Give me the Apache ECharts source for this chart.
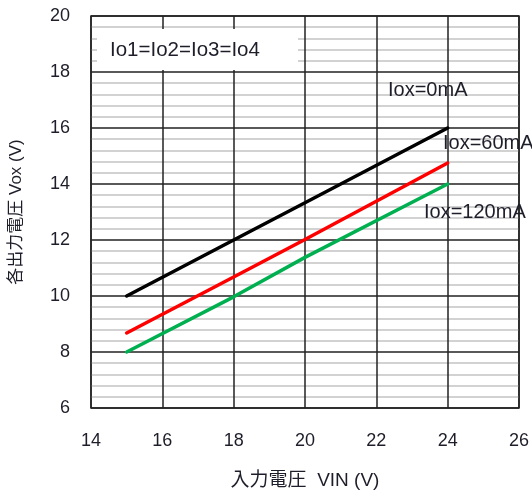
<!DOCTYPE html>
<html><head><meta charset="utf-8">
<script src="https://cdn.jsdelivr.net/npm/echarts@6/dist/echarts.min.js"></script>
<style>html,body{margin:0;padding:0;background:#fff}#c{width:532px;height:495px}</style>
</head><body><div id="c"></div>
<script>
const vin = [15, 18, 20, 24];
const vox0 = [10.0, 12.0, 13.33, 16.0];
const vox60 = [8.68, 10.68, 12.02, 14.75];
const vox120 = [8.0, 9.97, 11.38, 14.0];
const xTicks = [14, 16, 18, 20, 22, 24, 26];
const yTicks = [6, 8, 10, 12, 14, 16, 18, 20];
const seriesNames = ['Iox=0mA', 'Iox=60mA', 'Iox=120mA'];
const legendText = 'Io1=Io2=Io3=Io4';
const xName = '入力電圧  VIN (V)';
const yName = '各出力電圧 Vox (V)';

const font = '"Liberation Sans", Arial, "Noto Sans CJK JP", sans-serif';
const txt = '#1e1e2a';
const chart = echarts.init(document.getElementById('c'));
const mk = (name, ys, color) => ({
  name, type: 'line', data: vin.map((x, i) => [x, ys[i]]),
  symbol: 'none', lineStyle: { color, width: 3.5, cap: 'round' }, z: 5
});
chart.setOption({
  animation: false,
  backgroundColor: '#fff',
  textStyle: { fontFamily: font },
  grid: { left: 90, right: 9, top: 16, bottom: 85, show: true, borderColor: '#222', borderWidth: 1.5, backgroundColor: 'transparent' },
  xAxis: {
    type: 'value', min: xTicks[0], max: xTicks[xTicks.length - 1], interval: 2,
    name: xName, nameLocation: 'middle', nameGap: 63,
    nameTextStyle: { fontSize: 19, color: txt, fontFamily: font },
    axisLine: { show: false }, axisTick: { show: false },
    axisLabel: { fontSize: 18, color: txt, margin: 24 },
    splitLine: { show: true, lineStyle: { color: '#222', width: 1.5 } }
  },
  yAxis: {
    type: 'value', min: yTicks[0], max: yTicks[yTicks.length - 1], interval: 2,
    name: yName, nameLocation: 'middle', nameGap: 66,
    nameTextStyle: { fontSize: 17, color: txt, fontFamily: font },
    axisLine: { show: false }, axisTick: { show: false },
    axisLabel: { fontSize: 18, color: txt, margin: 21 },
    splitLine: { show: true, lineStyle: { color: '#222', width: 1.5 } },
    minorTick: { show: false, splitNumber: 5 },
    minorSplitLine: { show: true, lineStyle: { color: '#c4c4c4', width: 1.5 } }
  },
  series: [
    mk(seriesNames[0], vox0, '#000000'),
    mk(seriesNames[1], vox60, '#ff0000'),
    mk(seriesNames[2], vox120, '#00b050')
  ],
  graphic: [
    { type: 'rect', shape: { x: 97, y: 29, width: 201, height: 41 }, style: { fill: '#fff' }, z: 50 },
    { type: 'text', x: 110, y: 50, style: { text: legendText, fontSize: 20.5, fill: txt, fontFamily: font, verticalAlign: 'middle' }, z: 60 },
    { type: 'text', x: 388, y: 90, style: { text: seriesNames[0], fontSize: 20, fill: txt, fontFamily: font, verticalAlign: 'middle' }, z: 60 },
    { type: 'text', x: 443, y: 143, style: { text: seriesNames[1], fontSize: 20, fill: txt, fontFamily: font, verticalAlign: 'middle' }, z: 60 },
    { type: 'text', x: 424, y: 212, style: { text: seriesNames[2], fontSize: 20, fill: txt, fontFamily: font, verticalAlign: 'middle' }, z: 60 }
  ]
});
</script></body></html>
